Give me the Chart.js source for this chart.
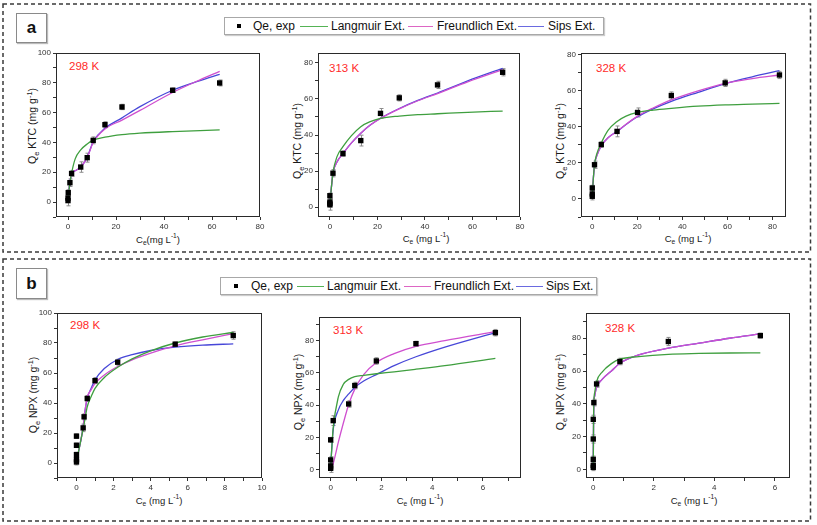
<!DOCTYPE html>
<html>
<head>
<meta charset="utf-8">
<script src="https://cdn.jsdelivr.net/npm/chart.js@4.4.1/dist/chart.umd.min.js"></script>
<style>
  html,body{margin:0;padding:0;background:#fff;}
  body{width:817px;height:525px;position:relative;overflow:hidden;font-family:"Liberation Sans",Arial,sans-serif;color:#111;}
  canvas{position:absolute;}
  .abs{position:absolute;white-space:nowrap;}
  .lbl{position:absolute;border:1px solid #8a8a8a;box-shadow:1px 1px 1px #bbb;font-weight:bold;font-size:17px;text-align:center;background:#fff;}
  .legend{position:absolute;border:1px solid #a8a8a8;box-shadow:1px 1px 1px #ccc;background:#fff;font-size:12px;}
  .legend .lt{position:absolute;top:0;white-space:nowrap;color:#111;}
  .legend .ln{position:absolute;height:1.3px;}
  .legend .mk{position:absolute;width:4px;height:4px;background:#000;}
  .temp{position:absolute;color:#ff2b2b;font-size:11.5px;white-space:nowrap;transform:translateY(-50%);}
  .yt{position:absolute;font-size:10.5px;white-space:nowrap;transform:translate(-50%,-50%) rotate(-90deg);color:#1a1a1a;}
  .xt{position:absolute;font-size:9.5px;white-space:nowrap;transform:translate(-50%,-50%);color:#1a1a1a;}
  sub,sup{font-size:70%;line-height:0;}
</style>
</head>
<body>
<svg class="abs" style="left:0;top:0" width="817" height="525">
  <rect x="3" y="4" width="807.5" height="248" fill="none" stroke="#3a3a3a" stroke-width="1.5" stroke-dasharray="4 3"/>
  <rect x="3" y="259" width="807.5" height="262" fill="none" stroke="#3a3a3a" stroke-width="1.5" stroke-dasharray="4 3"/>
</svg>

<div class="lbl" style="left:16px;top:13px;width:29px;height:28px;line-height:28px;">a</div>
<div class="lbl" style="left:16px;top:268px;width:29px;height:29px;line-height:29px;">b</div>

<div class="legend" style="left:224px;top:17px;width:378px;height:16px;line-height:16px;">
  <span class="mk" style="left:12px;top:6px"></span>
  <span class="lt" style="left:28px">Qe, exp</span>
  <span class="ln" style="left:75px;width:28px;top:8px;background:#55b355"></span>
  <span class="lt" style="left:106px">Langmuir Ext.</span>
  <span class="ln" style="left:183px;width:25px;top:8px;background:#dd66c4"></span>
  <span class="lt" style="left:212px">Freundlich Ext.</span>
  <span class="ln" style="left:293px;width:26px;top:8px;background:#6a6ae0"></span>
  <span class="lt" style="left:323px">Sips Ext.</span>
</div>
<div class="legend" style="left:220px;top:277px;width:375px;height:16px;line-height:16px;">
  <span class="mk" style="left:13px;top:6px"></span>
  <span class="lt" style="left:30px">Qe, exp</span>
  <span class="ln" style="left:76px;width:27px;top:8px;background:#55b355"></span>
  <span class="lt" style="left:106px">Langmuir Ext.</span>
  <span class="ln" style="left:183px;width:27px;top:8px;background:#dd66c4"></span>
  <span class="lt" style="left:213px">Freundlich Ext.</span>
  <span class="ln" style="left:295px;width:27px;top:8px;background:#6a6ae0"></span>
  <span class="lt" style="left:325px">Sips Ext.</span>
</div>

<div class="temp" style="left:69px;top:66px">298 K</div>
<div class="temp" style="left:329px;top:68px">313 K</div>
<div class="temp" style="left:596px;top:68px">328 K</div>
<div class="temp" style="left:70px;top:325px">298 K</div>
<div class="temp" style="left:333px;top:330px">313 K</div>
<div class="temp" style="left:605px;top:328px">328 K</div>

<div class="yt" style="left:32px;top:126px">Q<sub>e</sub> KTC (mg g<sup>-1</sup>)</div>
<div class="yt" style="left:297px;top:141px">Q<sub>e</sub> KTC (mg g<sup>-1</sup>)</div>
<div class="yt" style="left:560px;top:141px">Q<sub>e</sub> KTC (mg g<sup>-1</sup>)</div>
<div class="yt" style="left:33px;top:395px">Q<sub>e</sub> NPX (mg g<sup>-1</sup>)</div>
<div class="yt" style="left:298px;top:392px">Q<sub>e</sub> NPX (mg g<sup>-1</sup>)</div>
<div class="yt" style="left:560px;top:392px">Q<sub>e</sub> NPX (mg g<sup>-1</sup>)</div>

<div class="xt" style="left:158px;top:239px">C<sub>e</sub>(mg L<sup>-1</sup>)</div>
<div class="xt" style="left:426px;top:238px">C<sub>e</sub> (mg L<sup>-1</sup>)</div>
<div class="xt" style="left:688px;top:238px">C<sub>e</sub> (mg L<sup>-1</sup>)</div>
<div class="xt" style="left:159px;top:500px">C<sub>e</sub> (mg L<sup>-1</sup>)</div>
<div class="xt" style="left:420px;top:500px">C<sub>e</sub> (mg L<sup>-1</sup>)</div>
<div class="xt" style="left:694px;top:500px">C<sub>e</sub> (mg L<sup>-1</sup>)</div>

<script>
// ---------------- DATA ----------------
// (a) KTC, 298 K
const a1Ce   = [0, 0, 0.1, 0.8, 1.5, 5.3, 8.0, 10.5, 15.4, 22.5, 43.6, 63.2];
const a1Qe   = [1.0, 2.7, 6.3, 13.0, 19.2, 23.5, 29.8, 41.4, 51.9, 63.8, 75.0, 79.9];
const a1Err  = [3.5, 2, 2, 2.5, 2, 3.5, 3, 2.3, 2, 1.8, 1.5, 2];
const a1FitCe = [0, 0.1, 0.8, 1.5, 3, 5.3, 8, 10.5, 15.4, 22.5, 30, 43.6, 55, 63.2];
const a1Lang  = [0.5, 3, 13, 19.5, 29, 35, 39, 41.5, 43.5, 45.2, 46.2, 47.3, 48, 48.4];
const a1Freu  = [0.5, 3, 13, 19, 21, 23.5, 30, 40, 49, 55, 61.5, 73.5, 82, 87.7];
const a1Sips  = [0.5, 3, 13, 19, 21, 23.5, 30, 40.5, 49.5, 56.5, 64, 75, 81.5, 85.7];
const a1XTicks = [0, 20, 40, 60, 80];
const a1YTicks = [0, 20, 40, 60, 80, 100];

// (a) KTC, 313 K
const a2Ce   = [0, 0, 0, 0, 1.3, 5.5, 13.0, 21.3, 29.2, 45.3, 72.7];
const a2Qe   = [1.3, 2.0, 2.8, 6.3, 18.8, 29.7, 36.9, 52.0, 60.6, 67.8, 74.8];
const a2Err  = [3, 2, 2, 1.5, 2, 1.5, 3, 2.7, 1.7, 2, 2];
const a2FitCe = [0, 0.3, 1.3, 3, 5.5, 9, 13, 17, 21.3, 29.2, 37, 45.3, 58, 72.7];
const a2Lang  = [1, 6, 19, 28, 33.5, 39.5, 44.6, 47.4, 49.2, 50.5, 51.3, 51.8, 52.6, 53.3];
const a2Freu  = [1, 6, 18.8, 25, 29.7, 35.5, 41, 45.5, 49.2, 54.5, 59, 63, 69.5, 76.3];
const a2Sips  = [1, 6, 18.8, 25, 29.7, 35.5, 41, 45.5, 49.3, 54.7, 59.2, 63.3, 70, 77];
const a2XTicks = [0, 20, 40, 60, 80];
const a2YTicks = [0, 20, 40, 60, 80];

// (a) KTC, 328 K
const a3Ce   = [0, 0, 0, 1.0, 4.0, 11.0, 20.1, 35.1, 59.0, 83.1];
const a3Qe   = [1.5, 2.8, 6.1, 19.0, 30.2, 37.5, 48.0, 57.4, 64.4, 68.8];
const a3Err  = [2, 2, 1.5, 2, 1.5, 3, 2.5, 2, 2, 2];
const a3FitCe = [0, 0.3, 1, 2, 4, 7, 11, 15, 20.1, 27, 35.1, 47, 59, 71, 83.1];
const a3Lang  = [1, 8, 19, 25, 31, 38, 43, 46, 48, 49.3, 50.3, 51.5, 52.2, 52.6, 53];
const a3Freu  = [1, 8, 19, 24, 29.5, 34, 37.5, 41.5, 46, 50.5, 55, 60, 64.2, 66.8, 68.8];
const a3Sips  = [1, 8, 19, 24, 29.5, 34, 37.5, 41.3, 45.6, 50, 54.2, 59.2, 64, 67.8, 71.2];
const a3XTicks = [0, 20, 40, 60, 80];
const a3YTicks = [0, 20, 40, 60, 80];

// (b) NPX, 298 K
const b1Ce   = [0, 0, 0, 0, 0, 0.36, 0.41, 0.58, 1.0, 2.22, 5.32, 8.45];
const b1Qe   = [0.7, 2.2, 5.6, 11.8, 17.9, 23.4, 30.8, 43.0, 54.9, 67.2, 79.2, 85.0];
const b1Err  = [2, 1.5, 1.5, 1.5, 1.5, 2.5, 2, 2, 2, 2, 1.5, 2.5];
const b1FitCe = [0, 0.2, 0.36, 0.41, 0.58, 0.8, 1.0, 1.5, 2.22, 3, 4, 5.32, 6.8, 8.45];
const b1Lang  = [1, 13, 23, 26, 37.5, 44.5, 49.8, 57, 63.8, 69.4, 74.8, 80, 84, 87];
const b1Freu  = [1, 13, 24, 30, 43.7, 49, 53.1, 58.7, 64.3, 68.8, 73.2, 78.1, 82.1, 86.2];
const b1Sips  = [1, 13, 24, 30, 43, 50, 55.4, 63, 69, 72.2, 75, 77.2, 78.6, 79.4];
const b1XTicks = [0, 2, 4, 6, 8, 10];
const b1YTicks = [0, 20, 40, 60, 80, 100];

// (b) NPX, 313 K
const b2Ce   = [0, 0, 0, 0, 0.1, 0.71, 0.95, 1.8, 3.36, 6.49];
const b2Qe   = [1.0, 2.5, 6.2, 18.6, 30.5, 40.8, 52.2, 67.4, 78.1, 84.9];
const b2Err  = [2.5, 2, 2, 1.5, 3, 2, 2, 2, 1.5, 2];
const b2FitCe = [0, 0.05, 0.1, 0.3, 0.5, 0.71, 0.95, 1.3, 1.8, 2.5, 3.36, 4.5, 6.49];
const b2Lang  = [2, 15, 26, 45, 53, 56, 57.7, 58.5, 59.5, 60.7, 62.3, 64.5, 69];
const b2Freu  = [0.5, 2, 4, 17, 29, 40.5, 50, 59, 66.5, 72, 76.5, 80, 85.5];
const b2Sips  = [2, 15, 25, 37, 43, 47, 51, 55, 59, 64.5, 70, 76, 85];
const b2XTicks = [0, 2, 4, 6];
const b2YTicks = [0, 20, 40, 60, 80];

// (b) NPX, 328 K
const b3Ce   = [0, 0, 0, 0, 0, 0.02, 0.11, 0.88, 2.48, 5.52];
const b3Qe   = [1.2, 2.4, 6.1, 18.5, 30.5, 40.7, 52.1, 65.8, 78.0, 81.6];
const b3Err  = [2, 1.5, 2, 2.5, 2.5, 2, 2, 2, 2.5, 1.5];
const b3FitCe = [0, 0.01, 0.02, 0.05, 0.11, 0.3, 0.6, 0.88, 1.5, 2.48, 3.5, 4.5, 5.52];
const b3Lang  = [1, 30, 41, 47, 53.5, 59.5, 64.5, 67.2, 68.8, 70.2, 70.7, 71, 71.1];
const b3Freu  = [1, 30, 40, 45, 50, 55, 60, 64.7, 69.8, 73.9, 77, 80, 82.6];
const b3Sips  = [1, 30, 40, 45, 50, 55, 60, 64.7, 69.8, 73.9, 77, 80, 82.6];
const b3XTicks = [0, 2, 4, 6];
const b3YTicks = [0, 20, 40, 60, 80];

// ---------------- DRAWING ----------------
const FONT = '"Liberation Sans", Arial, sans-serif';
const C_GREEN = '#3f9f3f', C_MAG = '#cf4fcf', C_BLUE = '#4747d8';

function pts(xs, ys) { return xs.map((x, i) => ({ x: x, y: ys[i] })); }

function withMinor(major, min, max) {
  const step = major[1] - major[0];
  const out = major.slice();
  for (let v = major[0] - step / 2; v <= max + 1e-9; v += step) {
    if (v >= min - 1e-9) out.push(Math.round(v * 1000) / 1000);
  }
  return out.sort((a, b) => a - b);
}

const framePlugin = {
  id: 'frameAndErrors',
  beforeDatasetsDraw(chart) {
    const ctx = chart.ctx, xs = chart.scales.x, ys = chart.scales.y;
    chart.data.datasets.forEach(ds => {
      if (!ds.errors) return;
      ctx.save();
      ctx.strokeStyle = '#8c8c8c';
      ctx.lineWidth = 1;
      ds.data.forEach((p, i) => {
        const e = ds.errors[i];
        const px = Math.round(xs.getPixelForValue(p.x)) + 0.5;
        const y1 = ys.getPixelForValue(p.y - e), y2 = ys.getPixelForValue(p.y + e);
        ctx.beginPath();
        ctx.moveTo(px, y1); ctx.lineTo(px, y2);
        ctx.moveTo(px - 2, y1); ctx.lineTo(px + 2, y1);
        ctx.moveTo(px - 2, y2); ctx.lineTo(px + 2, y2);
        ctx.stroke();
      });
      ctx.restore();
    });
  },
  afterDraw(chart) {
    const a = chart.chartArea, ctx = chart.ctx;
    ctx.save();
    ctx.strokeStyle = '#2a2a2a';
    ctx.lineWidth = 1;
    ctx.strokeRect(Math.round(a.left) + 0.5, Math.round(a.top) + 0.5,
                   Math.round(a.right - a.left) - 1, Math.round(a.bottom - a.top) - 1);
    ctx.restore();
  }
};

function makePanel(frame, xr, yr, xTicks, yTicks, ce, qe, err, fitCe, lang, freu, sips) {
  const padL = 40, padT = 10, padR = 12, padB = 22;
  const w = frame.r - frame.l + padL + padR;
  const h = frame.b - frame.t + padT + padB;
  const c = document.createElement('canvas');
  c.width = w; c.height = h;
  c.style.left = (frame.l - padL) + 'px';
  c.style.top = (frame.t - padT) + 'px';
  c.style.width = w + 'px'; c.style.height = h + 'px';
  document.body.appendChild(c);

  const axis = (min, max, major) => ({
    type: 'linear', min: min, max: max,
    afterBuildTicks: s => { s.ticks = withMinor(major, min, max).map(v => ({ value: v })); },
    afterFit: s => { if (s.isHorizontal()) s.height = padB; else s.width = padL; },
    ticks: {
      autoSkip: false, maxRotation: 0, minRotation: 0, padding: 2, color: '#333',
      font: { family: FONT, size: 8 },
      callback: v => (major.indexOf(v) >= 0 ? String(v) : '')
    },
    grid: { display: true, drawOnChartArea: false, drawTicks: true, tickLength: 3, color: '#333', tickColor: '#333', tickWidth: 1 },
    border: { display: false }
  });

  const line = (data, color) => ({
    data: pts(fitCe, data), showLine: true, borderColor: color, backgroundColor: color,
    borderWidth: 1.3, pointRadius: 0, cubicInterpolationMode: 'monotone', fill: false
  });

  new Chart(c, {
    type: 'scatter',
    data: {
      datasets: [
        { data: pts(ce, qe), errors: err, pointStyle: 'rect', pointRadius: 3.8,
          backgroundColor: '#000', borderColor: '#000', borderWidth: 0, showLine: false },
        line(lang, C_GREEN),
        line(freu, C_MAG),
        line(sips, C_BLUE)
      ]
    },
    options: {
      responsive: false, animation: false, devicePixelRatio: 1,
      layout: { padding: { top: padT, right: padR, left: 0, bottom: 0 } },
      plugins: { legend: { display: false }, tooltip: { enabled: false } },
      scales: { x: axis(xr[0], xr[1], xTicks), y: axis(yr[0], yr[1], yTicks) }
    },
    plugins: [framePlugin]
  });
}

makePanel({ l: 56, t: 53, r: 260, b: 217 }, [-5, 80], [-10, 100], a1XTicks, a1YTicks, a1Ce, a1Qe, a1Err, a1FitCe, a1Lang, a1Freu, a1Sips);
makePanel({ l: 318, t: 53, r: 520, b: 217 }, [-5, 80], [-5.5, 85.5], a2XTicks, a2YTicks, a2Ce, a2Qe, a2Err, a2FitCe, a2Lang, a2Freu, a2Sips);
makePanel({ l: 581, t: 53, r: 786, b: 217 }, [-5, 86], [-10, 81], a3XTicks, a3YTicks, a3Ce, a3Qe, a3Err, a3FitCe, a3Lang, a3Freu, a3Sips);
makePanel({ l: 57, t: 313, r: 262, b: 478 }, [-1.05, 10], [-10, 100], b1XTicks, b1YTicks, b1Ce, b1Qe, b1Err, b1FitCe, b1Lang, b1Freu, b1Sips);
makePanel({ l: 319, t: 317, r: 521, b: 478 }, [-0.46, 7.5], [-5, 94.6], b2XTicks, b2YTicks, b2Ce, b2Qe, b2Err, b2FitCe, b2Lang, b2Freu, b2Sips);
makePanel({ l: 586, t: 313, r: 790, b: 478 }, [-0.24, 6.5], [-5.3, 95.4], b3XTicks, b3YTicks, b3Ce, b3Qe, b3Err, b3FitCe, b3Lang, b3Freu, b3Sips);
</script>
</body>
</html>
